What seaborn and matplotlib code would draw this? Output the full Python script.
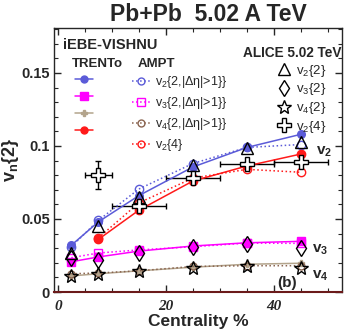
import numpy as np
import pandas as pd
import matplotlib
matplotlib.use("Agg")
import matplotlib.pyplot as plt
import seaborn as sns
from matplotlib.lines import Line2D

# ---------------- data ----------------
cent = [2.5, 7.5, 15, 25, 35, 45]
cent_v24 = [7.5, 15, 25, 35, 45]

trento_v22 = [0.032, 0.048, 0.066, 0.0856, 0.099, 0.108]
ampt_v22 = [0.031, 0.049, 0.0705, 0.088, 0.099, 0.101]
trento_v32 = [0.0207, 0.024, 0.028, 0.0315, 0.0337, 0.0347]
ampt_v32 = [0.0235, 0.0267, 0.0288, 0.031, 0.0335, 0.0333]
trento_v42 = [0.011, 0.0125, 0.0145, 0.017, 0.019, 0.0197]
ampt_v42 = [0.0125, 0.013, 0.0145, 0.0175, 0.018, 0.018]
trento_v24 = [0.036, 0.056, 0.076, 0.0863, 0.0945]
ampt_v24 = [0.037, 0.061, 0.078, 0.084, 0.082]

alice_v22 = [0.027, 0.045, 0.065, 0.087, 0.0985, 0.103]
alice_v32 = [0.0235, 0.022, 0.027, 0.031, 0.033, 0.030]
alice_v42 = [0.011, 0.0125, 0.0145, 0.0165, 0.0175, 0.0165]
alice_v24_x = [7.5, 15, 25, 35, 45]
alice_v24 = [0.080, 0.059, 0.078, 0.0877, 0.089]
alice_v24_xerr = [2.5, 5, 5, 5, 5]
alice_v24_yerr = [0.0095, 0.001, 0.001, 0.001, 0.001]

# ---------------- style ----------------
sns.set_style("ticks")
plt.rcParams['font.family'] = ['Liberation Sans', 'DejaVu Sans']
plt.rcParams['mathtext.fontset'] = 'custom'
plt.rcParams['mathtext.rm'] = 'Liberation Sans'
plt.rcParams['mathtext.it'] = 'Liberation Sans:italic'
plt.rcParams['mathtext.bf'] = 'Liberation Sans:bold'

BLUE = "#5b5bd8"
MAG = "#ff00ff"
TAN = "#b3a48c"
BROWN = "#8a6450"
RED = "#ff1a1a"

fig = plt.figure(figsize=(3.47, 3.33), dpi=100)
ax = fig.add_axes([54/347, 41/333, 288/347, 264/333])

def model(x, y, color, ls, marker, mfc, ms=5, lw=1.1, z=3):
    df = pd.DataFrame({"x": x, "y": y})
    sns.lineplot(data=df, x="x", y="y", ax=ax, sort=False, errorbar=None,
                 color=color, linestyle=ls, linewidth=lw, marker=marker,
                 markersize=ms, markerfacecolor=mfc, markeredgecolor=color,
                 markeredgewidth=1.0, zorder=z)

def alice(x, y, marker, ms=9):
    df = pd.DataFrame({"x": x, "y": y})
    sns.lineplot(data=df, x="x", y="y", ax=ax, sort=False, errorbar=None,
                 linestyle="none", marker=marker, markersize=ms,
                 markerfacecolor="none", markeredgecolor="black",
                 markeredgewidth=1.0, color="black", zorder=4)

# ALICE v2{4} error bars
ax.errorbar(alice_v24_x, alice_v24, xerr=alice_v24_xerr, yerr=alice_v24_yerr,
            fmt="none", ecolor="black", elinewidth=1.0, capsize=2, zorder=2)

model(cent, trento_v42, TAN, "-", "P", TAN, ms=5)
model(cent, ampt_v42, BROWN, ":", "o", "none", ms=5)
model(cent, trento_v32, MAG, "-", "s", MAG, ms=5.5)
model(cent, ampt_v32, MAG, ":", "s", "none", ms=5.5)
model(cent, trento_v22, BLUE, "-", "o", BLUE, ms=5.5)
model(cent, ampt_v22, BLUE, ":", "o", "none", ms=6)
model(cent_v24, trento_v24, RED, "-", "o", RED, ms=6)
model(cent_v24, ampt_v24, RED, ":", "o", "none", ms=6)

alice(cent, alice_v22, "^", ms=9)
alice(cent, alice_v32, "d", ms=8.5)
alice(cent, alice_v42, "*", ms=10)
df24 = pd.DataFrame({"x": alice_v24_x, "y": alice_v24})
sns.lineplot(data=df24, x="x", y="y", ax=ax, sort=False, errorbar=None,
             linestyle="none", marker="P", markersize=10,
             markerfacecolor="white", markeredgecolor="black",
             markeredgewidth=1.0, color="black", zorder=5)

# ---------------- axes ----------------
ax.set_xlim(-0.7, 52.6)
ax.set_ylim(0, 0.1808)
ax.set_xticks([0, 20, 40])
ax.set_xticks(np.arange(0, 55, 5), minor=True)
ax.set_yticks([0, 0.05, 0.1, 0.15])
ax.set_yticks(np.arange(0, 0.181, 0.01), minor=True)
ax.set_yticklabels(["0", "0.05", "0.1", "0.15"], fontsize=10.5, fontweight="bold")
ax.set_xticklabels(["0", "20", "40"], fontsize=11, fontweight="bold",
                   family="Liberation Serif", style="italic")
ax.tick_params(which="both", direction="in", top=True, right=True, pad=3)
ax.tick_params(which="major", length=5, width=1)
ax.tick_params(which="minor", length=3, width=0.8)
ax.tick_params(axis="x", which="major", pad=6)
for s in ax.spines.values():
    s.set_linewidth(1.0)
ax.spines["bottom"].set_color("#6b1a1a")
ax.spines["bottom"].set_linewidth(1.5)

ax.set_xlabel("Centrality %", fontsize=12.5, fontweight="bold", va="top")
ax.set_ylabel(r"v$_\mathbf{n}${2}", fontsize=13, fontweight="bold")
ax.xaxis.set_label_coords(0.5, -0.085)
ax.yaxis.set_label_coords(-0.115, 0.5)

fig.text(0.60, 0.955, "Pb+Pb  5.02 A TeV", fontsize=16.5, fontweight="bold",
         ha="center", va="center")

ax.text(0.03, 0.935, "iEBE-VISHNU", transform=ax.transAxes, fontsize=10.5,
        fontweight="bold", va="center")
ax.text(0.062, 0.862, "TRENTo", transform=ax.transAxes, fontsize=9.5,
        fontweight="bold", va="center")
ax.text(0.29, 0.862, "AMPT", transform=ax.transAxes, fontsize=9.5,
        fontweight="bold", va="center")
ax.text(0.998, 0.905, "ALICE 5.02 TeV", transform=ax.transAxes, fontsize=9.8,
        fontweight="bold", va="center", ha="right")

ax.text(0.91, 0.53, r"v$_\mathbf{2}$", transform=ax.transAxes, fontsize=11, fontweight="bold", va="center")
ax.text(0.895, 0.160, r"v$_\mathbf{3}$", transform=ax.transAxes, fontsize=11, fontweight="bold", va="center")
ax.text(0.895, 0.062, r"v$_\mathbf{4}$", transform=ax.transAxes, fontsize=11, fontweight="bold", va="center")
ax.text(0.775, 0.035, "(b)", transform=ax.transAxes, fontsize=11, fontweight="bold", va="center")

# ---------------- legends ----------------
def h(color, ls, marker, mfc, ms=5):
    return Line2D([], [], color=color, linestyle=ls, marker=marker, markersize=ms,
                  markerfacecolor=mfc, markeredgecolor=color, linewidth=1.1)

tr_handles = [h(BLUE, "-", "o", BLUE), h(MAG, "-", "s", MAG, 5.5),
              h(TAN, "-", "P", TAN), h(RED, "-", "o", RED)]
am_handles = [h(BLUE, ":", "o", "none"), h(MAG, ":", "s", "none", 5.5),
              h(BROWN, ":", "o", "none"), h(RED, ":", "o", "none")]
am_labels = [r"v$_2${2,|Δη|>1}}", r"v$_3${2,|Δη|>1}}",
             r"v$_4${2,|Δη|>1}}", r"v$_2${4}"]

kw = dict(frameon=False, fontsize=9, borderpad=0, borderaxespad=0,
          handlelength=1.45, labelspacing=0.4, handletextpad=0.4)
legA = ax.legend(tr_handles, ["", "", "", ""], loc="upper left",
                 bbox_to_anchor=(0.073, 0.825), **kw)
ax.add_artist(legA)
legB = ax.legend(am_handles, am_labels, loc="upper left",
                 bbox_to_anchor=(0.27, 0.825), **kw)
ax.add_artist(legB)

al_handles = [Line2D([], [], linestyle="none", marker=m, markersize=s,
                     markerfacecolor="none", markeredgecolor="black")
              for m, s in [("^", 9), ("d", 8.5), ("*", 10), ("P", 10)]]
al_labels = [r"v$_2${2}", r"v$_3${2}", r"v$_4${2}", r"v$_2${4}"]
legC = ax.legend(al_handles, al_labels, loc="upper left",
                 bbox_to_anchor=(0.775, 0.868), frameon=False, fontsize=9.5,
                 borderpad=0, borderaxespad=0, handlelength=1.0,
                 labelspacing=0.2, handletextpad=0.4)

fig.savefig("out.png", dpi=100)
